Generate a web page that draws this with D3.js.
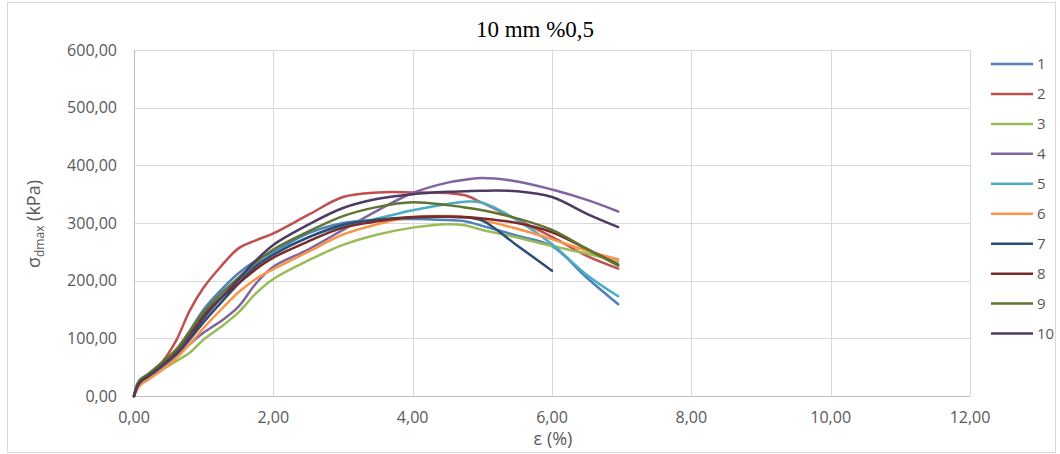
<!DOCTYPE html>
<html>
<head>
<meta charset="utf-8">
<script src="https://d3js.org/d3.v7.min.js"></script>
<style>
	body { margin: 0; background: white; }
	text { font-family: 'Open Sans', sans-serif; fill: #595959; }
	.title { font-family: 'Liberation Serif', serif; fill: black; font-size: 23px; }
	.tick-label { font-size: 16px; }
	.axis-title { font-size: 18px; }
	.legend-label { font-size: 15px; }
</style>
</head>
<body>
<div id="chart"></div>
<script>
	// strain values (%) shared by every test
	var strain = [0, 0.05, 0.1, 0.2, 0.4, 0.6, 0.8, 1.0, 1.25, 1.5, 1.75, 2.0, 2.5, 3.0, 3.5, 4.0, 4.5, 4.75, 5.0, 5.5, 6.0, 6.5, 6.95];

	// deviator stress (kPa)
	var s1 = [0, 18, 27, 36, 55, 78, 113, 150, 184, 213, 235, 250, 282, 300, 305, 307, 305, 303, 295, 278, 260, 205, 159];
	var s2 = [0, 18, 27, 35, 58, 95, 148, 188, 225, 256, 270, 282, 314, 345, 353, 353, 352, 348, 335, 306, 276, 243, 221];
	var s3 = [0, 15, 22, 30, 45, 60, 75, 98, 120, 145, 178, 203, 235, 262, 280, 292, 298, 296, 288, 275, 260, 247, 233];
	var s4 = [0, 17, 25, 33, 50, 68, 90, 110, 130, 155, 195, 224, 254, 288, 322, 352, 370, 375, 378, 372, 358, 340, 320];
	var s5 = [0, 17, 25, 34, 52, 72, 105, 140, 172, 200, 228, 246, 275, 295, 308, 322, 333, 337, 335, 305, 263, 210, 173];
	var s6 = [0, 12, 20, 28, 45, 65, 90, 118, 150, 180, 203, 220, 250, 280, 298, 311, 312, 311, 305, 290, 272, 252, 237];
	var s7 = [0, 17, 26, 34, 52, 72, 98, 128, 162, 195, 225, 245, 275, 297, 306, 310, 311, 310, 304, 261, 217];
	var s8 = [0, 18, 26, 35, 55, 78, 108, 140, 170, 195, 220, 240, 268, 292, 303, 310, 311, 310, 308, 300, 284, 255, 228];
	var s9 = [0, 22, 30, 38, 58, 80, 112, 145, 178, 205, 232, 254, 285, 312, 328, 336, 331, 327, 322, 308, 288, 255, 226];
	var s10 = [0, 18, 26, 34, 52, 72, 100, 135, 170, 202, 235, 262, 297, 326, 342, 350, 354, 355, 356, 355, 345, 316, 293];

	var seriesNames = ["1", "2", "3", "4", "5", "6", "7", "8", "9", "10"];
	var seriesValues = [s1, s2, s3, s4, s5, s6, s7, s8, s9, s10];
	var seriesColors = ["#4F81BD", "#C0504D", "#9BBB59", "#8064A2", "#4BACC6", "#F79646", "#2C4D75", "#772C2A", "#5F7530", "#4D3B62"];

	var xTicks = [0, 2, 4, 6, 8, 10, 12];
	var yTicks = [0, 100, 200, 300, 400, 500, 600];

	var W = 1060, H = 454;
	var plot = { left: 134, right: 970, top: 50, bottom: 396 };

	var svg = d3.select("#chart").append("svg")
		.attr("width", W)
		.attr("height", H);

	// chart frame
	svg.append("rect")
		.attr("x", 7.5).attr("y", 2.5)
		.attr("width", 1048).attr("height", 450)
		.attr("fill", "white")
		.attr("stroke", "#d9d9d9");

	var x = d3.scaleLinear().domain([0, 12]).range([plot.left, plot.right]);
	var y = d3.scaleLinear().domain([0, 600]).range([plot.bottom, plot.top]);

	var fmt = function (d) { return d3.format(".2f")(d).replace(".", ","); };

	// grid
	svg.append("g").selectAll("line")
		.data(yTicks.slice(1))
		.enter().append("line")
		.attr("x1", plot.left).attr("x2", plot.right)
		.attr("y1", function (d) { return Math.round(y(d)) + 0.5; })
		.attr("y2", function (d) { return Math.round(y(d)) + 0.5; })
		.style("stroke", "#d9d9d9");

	svg.append("g").selectAll("line")
		.data(xTicks.slice(1))
		.enter().append("line")
		.attr("y1", plot.top).attr("y2", plot.bottom)
		.attr("x1", function (d) { return Math.round(x(d)) + 0.5; })
		.attr("x2", function (d) { return Math.round(x(d)) + 0.5; })
		.style("stroke", "#d9d9d9");

	// axis lines
	svg.append("line")
		.attr("x1", plot.left).attr("x2", plot.right)
		.attr("y1", Math.round(y(0)) + 0.5).attr("y2", Math.round(y(0)) + 0.5)
		.style("stroke", "#bfbfbf");
	svg.append("line")
		.attr("x1", plot.left + 0.5).attr("x2", plot.left + 0.5)
		.attr("y1", plot.top).attr("y2", plot.bottom)
		.style("stroke", "#bfbfbf");

	// tick labels
	svg.append("g").selectAll("text")
		.data(yTicks)
		.enter().append("text")
		.attr("class", "tick-label")
		.attr("x", 117)
		.attr("y", function (d) { return y(d); })
		.attr("dy", "0.35em")
		.style("text-anchor", "end")
		.text(fmt);

	svg.append("g").selectAll("text")
		.data(xTicks)
		.enter().append("text")
		.attr("class", "tick-label")
		.attr("x", function (d) { return x(d); })
		.attr("y", 423)
		.style("text-anchor", "middle")
		.text(fmt);

	// titles
	svg.append("text")
		.attr("class", "title")
		.attr("x", 535).attr("y", 37)
		.style("text-anchor", "middle")
		.text("10 mm %0,5");

	svg.append("text")
		.attr("class", "axis-title")
		.attr("x", 553).attr("y", 445)
		.style("text-anchor", "middle")
		.text("ε (%)");

	var yt = svg.append("text")
		.attr("class", "axis-title")
		.attr("transform", "translate(40,224) rotate(-90)")
		.style("text-anchor", "middle");
	yt.append("tspan").text("σ");
	yt.append("tspan").attr("dy", 4).style("font-size", "12px").text("dmax");
	yt.append("tspan").attr("dy", -4).text(" (kPa)");

	// series
	var line = d3.line()
		.x(function (d) { return x(d[0]); })
		.y(function (d) { return y(d[1]); })
		.curve(d3.curveCatmullRom.alpha(0.5));

	svg.append("g").selectAll("path")
		.data(seriesValues)
		.enter().append("path")
		.attr("d", function (vals) {
			return line(vals.map(function (v, i) { return [strain[i], v]; }));
		})
		.attr("fill", "none")
		.attr("stroke", function (d, i) { return seriesColors[i]; })
		.attr("stroke-width", 2.5)
		.attr("stroke-linecap", "round")
		.attr("stroke-linejoin", "round");

	// legend
	var legend = svg.append("g").selectAll("g")
		.data(seriesNames)
		.enter().append("g")
		.attr("transform", function (d, i) { return "translate(991," + (64 + i * 29.95) + ")"; });

	legend.append("line")
		.attr("x1", 0).attr("x2", 42)
		.attr("stroke", function (d, i) { return seriesColors[i]; })
		.attr("stroke-width", 2.5);

	legend.append("text")
		.attr("class", "legend-label")
		.attr("x", 46)
		.attr("dy", "0.35em")
		.text(function (d) { return d; });
</script>
</body>
</html>
